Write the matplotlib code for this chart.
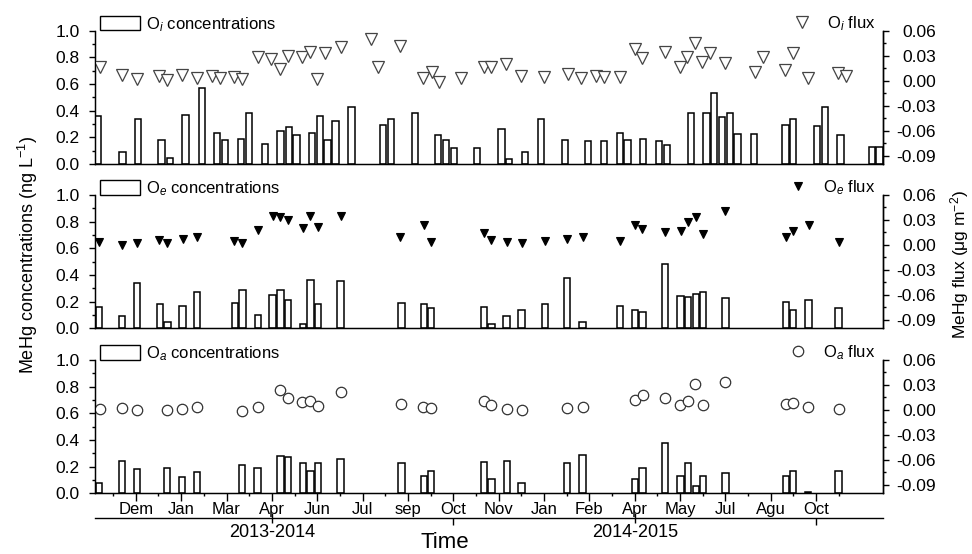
import matplotlib
matplotlib.use('Agg')
import matplotlib.pyplot as plt
from matplotlib.patches import Patch
from matplotlib.lines import Line2D
from matplotlib.ticker import MultipleLocator, FixedLocator

plt.rcParams['font.family'] = ['Liberation Sans', 'DejaVu Sans']
plt.rcParams['mathtext.fontset'] = 'custom'
plt.rcParams['mathtext.rm'] = 'Liberation Sans'
plt.rcParams['mathtext.it'] = 'Liberation Sans:italic'
plt.rcParams['axes.unicode_minus'] = False

# sampling positions on the time axis (1 unit = 1 tick)
oi_conc_t = [-0.66, 0.41, 1.10, 2.13, 2.50, 3.19, 3.93, 4.59, 4.94, 5.63, 6.00, 6.69, 7.38, 7.75, 8.08,
             8.78, 9.11, 9.45, 9.80, 10.51, 11.91, 12.24, 13.30, 14.33, 14.67, 15.04, 16.05, 17.12, 17.46,
             18.15, 18.86, 19.92, 20.95, 21.65, 22.34, 22.68, 23.37, 24.07, 24.43, 25.47, 26.16, 26.50,
             26.85, 27.19, 27.53, 28.25, 29.65, 29.98, 31.04, 31.38, 32.07, 33.47, 33.80]
oi_conc = [0.36, 0.09, 0.34, 0.18, 0.045, 0.37, 0.57, 0.23, 0.18, 0.19, 0.385, 0.15, 0.25, 0.28, 0.22,
           0.23, 0.36, 0.18, 0.32, 0.43, 0.29, 0.34, 0.385, 0.22, 0.18, 0.12, 0.12, 0.26, 0.04,
           0.09, 0.34, 0.18, 0.17, 0.17, 0.23, 0.18, 0.19, 0.175, 0.145, 0.38, 0.38, 0.535,
           0.355, 0.385, 0.225, 0.225, 0.29, 0.335, 0.285, 0.425, 0.215, 0.125, 0.125]
oi_flux_t = [-0.59, 0.37, 1.06, 2.03, 2.38, 3.04, 3.70, 4.37, 4.70, 5.34, 5.70, 6.40, 6.98, 7.35, 7.69,
             8.31, 8.67, 9.01, 9.36, 10.03, 11.36, 11.70, 12.67, 13.67, 14.04, 14.36, 15.33, 16.34, 16.68,
             17.32, 18.00, 19.00, 20.06, 20.65, 21.31, 21.65, 22.34, 23.00, 23.34, 24.33, 25.00, 25.31,
             25.65, 25.99, 26.31, 27.00, 28.32, 28.66, 29.62, 29.98, 30.64, 31.97, 32.34]
oi_flux = [0.017, 0.007, 0.002, 0.006, 0.001, 0.007, 0.003, 0.006, 0.003, 0.004, 0.002, 0.028, 0.026, 0.014, 0.030,
           0.028, 0.035, 0.002, 0.033, 0.041, 0.050, 0.017, 0.042, 0.003, 0.011, -0.001, 0.003, 0.017, 0.016,
           0.020, 0.006, 0.005, 0.008, 0.003, 0.006, 0.004, 0.004, 0.038, 0.027, 0.035, 0.017, 0.028,
           0.045, 0.023, 0.033, 0.021, 0.010, 0.028, 0.013, 0.033, 0.003, 0.009, 0.006]

oe_conc_t = [-0.62, 0.38, 1.06, 2.06, 2.40, 3.06, 3.70, 5.37, 5.70, 6.38, 7.03, 7.38, 7.70, 8.38, 8.70,
             9.04, 10.03, 12.71, 13.70, 14.01, 16.36, 16.68, 17.35, 18.01, 19.04, 20.02, 20.70, 22.34,
             23.00, 23.34, 24.34, 25.02, 25.36, 25.69, 26.02, 27.00, 29.66, 29.99, 30.67, 31.99]
oe_conc = [0.16, 0.095, 0.34, 0.185, 0.045, 0.17, 0.27, 0.19, 0.285, 0.10, 0.25, 0.285, 0.215, 0.035, 0.36,
           0.185, 0.355, 0.19, 0.185, 0.155, 0.16, 0.035, 0.09, 0.14, 0.185, 0.375, 0.05, 0.165,
           0.135, 0.12, 0.485, 0.245, 0.235, 0.26, 0.27, 0.23, 0.195, 0.14, 0.215, 0.155]
oe_flux_t = [-0.62, 0.38, 1.06, 2.03, 2.38, 3.06, 3.70, 5.34, 5.70, 6.38, 7.03, 7.38, 7.70, 8.38, 8.70,
             9.04, 10.03, 12.67, 13.70, 14.01, 16.36, 16.68, 17.35, 18.01, 19.04, 20.02, 20.70, 22.34,
             23.00, 23.34, 24.34, 25.02, 25.36, 25.69, 26.02, 27.00, 29.66, 29.99, 30.67, 31.99]
oe_flux = [0.004, 0.000, 0.002, 0.006, 0.002, 0.007, 0.010, 0.005, 0.002, 0.018, 0.035, 0.034, 0.030, 0.020, 0.035,
           0.022, 0.035, 0.010, 0.024, 0.004, 0.014, 0.006, 0.004, 0.002, 0.005, 0.007, 0.010, 0.005,
           0.024, 0.019, 0.015, 0.017, 0.028, 0.034, 0.013, 0.041, 0.010, 0.017, 0.024, 0.003]

oa_conc_t = [-0.62, 0.38, 1.06, 2.38, 3.04, 3.70, 5.68, 6.37, 7.38, 7.72, 8.38, 8.70, 9.04, 10.03, 12.71,
             13.70, 14.01, 16.36, 16.68, 17.37, 18.01, 20.02, 20.70, 23.00, 23.34, 24.35, 25.02, 25.36,
             25.69, 26.02, 27.00, 29.66, 29.99, 30.64, 31.99]
oa_conc = [0.075, 0.24, 0.18, 0.19, 0.125, 0.16, 0.215, 0.19, 0.28, 0.275, 0.225, 0.165, 0.23, 0.255, 0.23,
           0.13, 0.165, 0.235, 0.11, 0.24, 0.08, 0.23, 0.29, 0.105, 0.19, 0.38, 0.13, 0.225,
           0.055, 0.13, 0.155, 0.13, 0.165, 0.007, 0.17]
oa_flux_t = [-0.59, 0.38, 1.06, 2.38, 3.04, 3.70, 5.70, 6.37, 7.35, 7.70, 8.34, 8.67, 9.04, 10.04, 12.69,
             13.67, 14.01, 16.36, 16.68, 17.37, 18.01, 20.02, 20.70, 23.00, 23.37, 24.33, 25.00, 25.33,
             25.68, 26.02, 27.00, 29.66, 29.98, 30.64, 31.99]
oa_flux = [0.001, 0.002, 0.000, 0.000, 0.001, 0.003, -0.001, 0.004, 0.024, 0.014, 0.010, 0.011, 0.005, 0.022, 0.007,
           0.004, 0.002, 0.011, 0.006, 0.001, 0.000, 0.002, 0.003, 0.012, 0.018, 0.014, 0.006, 0.011,
           0.031, 0.006, 0.033, 0.007, 0.008, 0.004, 0.001]

month_pos = [1, 3, 5, 7, 9, 11, 13, 15, 17, 19, 21, 23, 25, 27, 29, 31]
month_labels = ['Dem', 'Jan', 'Mar', 'Apr', 'Jun', 'Jul', 'sep', 'Oct',
                'Nov', 'Jan', 'Feb', 'Apr', 'May', 'Jul', 'Agu', 'Oct']
year_pos = [7, 23]
year_labels = ['2013-2014', '2014-2015']
year_bounds = [15, 31]

conc_ticks = [0.0, 0.2, 0.4, 0.6, 0.8, 1.0]
flux_ticks = [-0.09, -0.06, -0.03, 0.00, 0.03, 0.06]

W, H = 972, 554
fig = plt.figure(figsize=(W / 100, H / 100), dpi=100)
left, width = 95 / W, 788 / W
height = 133.3 / H
XLIM = (-0.8, 33.95)


def panel(bottom_px, conc_t, conc, flux_t, flux, conc_label, flux_label, mstyle, last=False):
    ax = fig.add_axes([left, bottom_px / H, width, height])
    ax.bar(conc_t, conc, width=0.28, facecolor='white', edgecolor='black', linewidth=1.1)
    ax.set_xlim(*XLIM)
    ax.set_ylim(0, 1.0)
    ax.set_yticks(conc_ticks)
    ax.set_yticklabels([f'{v:.1f}' for v in conc_ticks])
    ax.yaxis.set_minor_locator(MultipleLocator(0.1))
    ax.tick_params(axis='y', which='major', length=4, width=1.0, labelsize=12.5, pad=7)
    ax.tick_params(axis='y', which='minor', length=2.3, width=1.0)
    ax.spines['top'].set_visible(False)
    for s in ['left', 'bottom', 'right']:
        ax.spines[s].set_linewidth(1.0)

    if last:
        ax.xaxis.set_major_locator(FixedLocator(month_pos))
        ax.set_xticklabels(month_labels)
        ax.xaxis.set_minor_locator(FixedLocator(range(0, 34, 2)))
        ax.tick_params(axis='x', which='major', length=5.8, width=1.0, labelsize=12, pad=0.5)
        ax.tick_params(axis='x', which='minor', length=2.3, width=1.0)
    else:
        ax.tick_params(axis='x', which='both', bottom=False, labelbottom=False)

    ax2 = ax.twinx()
    ax2.plot(flux_t, flux, linestyle='none', **mstyle)
    ax2.set_ylim(-0.10, 0.06)
    ax2.set_yticks(flux_ticks)
    ax2.set_yticklabels([f'{v:.2f}' for v in flux_ticks], ha='right')
    ax2.yaxis.set_minor_locator(FixedLocator([-0.075, -0.045, -0.015, 0.015, 0.045]))
    ax2.tick_params(axis='y', which='major', length=4, width=1.0, labelsize=12.5, pad=34)
    ax2.tick_params(axis='y', which='minor', length=2.3, width=1.0)
    ax2.spines['top'].set_visible(False)
    ax2.spines['right'].set_linewidth(1.0)

    # legends sit just above each panel
    ax.legend(handles=[Patch(facecolor='white', edgecolor='black', linewidth=1.0)], labels=[conc_label],
              loc='center left', bbox_to_anchor=(0.006, 1.048), frameon=False, borderpad=0,
              borderaxespad=0, handlelength=2.4, handleheight=0.95, handletextpad=0.4, fontsize=12)
    ax2.legend(handles=[Line2D([], [], linestyle='none', **mstyle)], labels=[flux_label],
               loc='center right', bbox_to_anchor=(0.99, 1.055), frameon=False, borderpad=0,
               borderaxespad=0, handlelength=1.0, handletextpad=1.0, fontsize=12)
    return ax


panel(390, oi_conc_t, oi_conc, oi_flux_t, oi_flux,
      r'O$_i$ concentrations', r'O$_i$ flux',
      dict(marker='v', ms=8.5, mfc='white', mec='#444444', mew=0.9))
panel(225.7, oe_conc_t, oe_conc, oe_flux_t, oe_flux,
      r'O$_e$ concentrations', r'O$_e$ flux',
      dict(marker='v', ms=6, mfc='black', mec='black', mew=0.8))
panel(60.7, oa_conc_t, oa_conc, oa_flux_t, oa_flux,
      r'O$_a$ concentrations', r'O$_a$ flux',
      dict(marker='o', ms=7.5, mfc='white', mec='#333333', mew=0.9), last=True)

# second axis line with the sampling years
axy = fig.add_axes([left, 36 / H, width, 0.0001])
axy.set_xlim(*XLIM)
axy.set_yticks([])
for s in ['left', 'right', 'top']:
    axy.spines[s].set_visible(False)
axy.spines['bottom'].set_linewidth(1.0)
axy.xaxis.set_major_locator(FixedLocator(year_pos))
axy.set_xticklabels(year_labels)
axy.xaxis.set_minor_locator(FixedLocator(year_bounds))
axy.tick_params(axis='x', which='major', direction='inout', length=7, width=1.0, labelsize=13, pad=0.5)
axy.tick_params(axis='x', which='minor', length=5, width=1.0)

fig.text(445 / W, 1 - 543 / H, 'Time', ha='center', va='center', fontsize=16)
fig.text(28 / W, 1 - 255 / H, r'MeHg concentrations (ng L$^{-1}$)', rotation=90,
         ha='center', va='center', fontsize=13)
fig.text(960 / W, 1 - 264 / H, r'MeHg flux (μg m$^{-2}$)', rotation=90,
         ha='center', va='center', fontsize=12.5)

plt.savefig('out.png', dpi=100)
